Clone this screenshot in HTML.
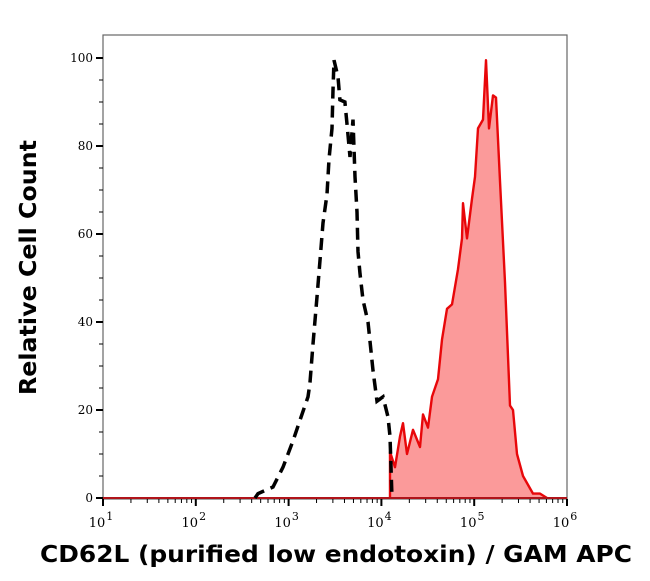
<!DOCTYPE html>
<html><head><meta charset="utf-8"><style>
body{margin:0;background:#fff}
svg{display:block}
</style></head><body>
<svg id="chart" width="650" height="581" xmlns="http://www.w3.org/2000/svg"></svg>
<script>
// Data arrays
const xTickExps = [1, 2, 3, 4, 5, 6];
const yTicks = [0, 20, 40, 60, 80, 100];
const isotypeLogX = [2.638,2.670,2.832,2.94,3.047,3.123,3.209,3.23,3.263,3.306,3.338,3.371,3.414,3.435,3.468,3.478,3.489,3.532,3.553,3.607,3.629,3.662,3.694,3.716,3.737,3.748,3.769,3.802,3.856,3.91,3.953,4.017,4.071,4.093,4.114];
const isotypeCount = [0,1,2.5,7,13,17.7,23,26,35,45.7,54,62.5,69,77,84,92.7,99.5,95.7,90.5,90,85,77.5,86,73,65,56,51,45,40,29,22,23,18.4,14,0];
const stainedLogX = [4.093,4.093,4.147,4.2,4.233,4.276,4.34,4.416,4.448,4.502,4.545,4.61,4.653,4.707,4.761,4.825,4.869,4.879,4.922,4.976,5.009,5.041,5.095,5.127,5.159,5.203,5.235,5.278,5.332,5.386,5.418,5.461,5.526,5.634,5.709,5.784];
const stainedCount = [0,10.5,7,14,17,10,15.5,11.6,19,16,23,27,36,43,44,52,59,67,59,68,73,84,86,99.5,84,91.5,91,72,49,21,20,10,5,1,1,0];

const NS = 'http://www.w3.org/2000/svg';
const svg = document.getElementById('chart');
const L = 103, R = 567, T = 35, B = 498;
const xScale = lg => L + (lg - 1) * (R - L) / 5;
const yScale = v => B - v * 4.4;
function mk(tag, attrs, parent) {
  const e = document.createElementNS(NS, tag);
  for (const k in attrs) e.setAttribute(k, attrs[k]);
  (parent || svg).appendChild(e);
  return e;
}

const frame = mk('rect', {x: L, y: T, width: R - L, height: 499 - T, fill: 'none', stroke: '#666', 'stroke-width': 1.2});



let d = '';
stainedLogX.forEach((lx, i) => { d += (i ? 'L' : 'M') + xScale(lx).toFixed(1) + ',' + yScale(stainedCount[i]).toFixed(1); });
const area = mk('path', {d: d + 'Z', fill: '#fb9a9a', stroke: 'none'});


const line = mk('path', {d: d, fill: 'none', stroke: '#e8070a', 'stroke-width': 2.4, 'stroke-linejoin': 'round'});



const base = mk('line', {x1: L, x2: R, y1: B, y2: B, stroke: '#b0141a', 'stroke-width': 2});



let d2 = '';
isotypeLogX.forEach((lx, i) => { d2 += (i ? 'L' : 'M') + xScale(lx).toFixed(1) + ',' + yScale(isotypeCount[i]).toFixed(1); });
const iso = mk('path', {d: d2, fill: 'none', stroke: '#000', 'stroke-width': 3.5, 'stroke-dasharray': '12 7'});



for (let v = 0; v <= 100; v += 5) {
  const major = v % 20 === 0;
  const t = mk('line', {x1: major ? L - 7 : L - 4, x2: L, y1: yScale(v), y2: yScale(v), stroke: '#000', 'stroke-width': major ? 2 : 1});
  
  
}
yTicks.forEach(v => {
  const t = mk('text', {x: L - 10, y: yScale(v) + 4, 'text-anchor': 'end', 'font-family': 'DejaVu Serif, Liberation Serif, serif', 'font-size': 12, fill: '#000'});
  t.textContent = v;
  
  
});

xTickExps.forEach(e => {
  const x = xScale(e);
  const t = mk('line', {x1: x, x2: x, y1: 499, y2: 506, stroke: '#000', 'stroke-width': 2});
  
  
  if (e < 6) for (let m = 2; m <= 9; m++) {
    const xm = xScale(e + Math.log10(m));
    const tm = mk('line', {x1: xm, x2: xm, y1: 499, y2: 503, stroke: '#000', 'stroke-width': 1});
    
    
  }
  const lbl = mk('text', {x: x - 2, y: 527, 'text-anchor': 'middle', 'font-family': 'DejaVu Serif, Liberation Serif, serif', 'font-size': 13, fill: '#000'});
  lbl.textContent = '10';
  const sup = mk('tspan', {dx: 1, dy: -7, 'font-size': 11}, lbl);
  sup.textContent = e;
  
  
});

const xt = mk('text', {x: 40, y: 562, 'font-family': 'DejaVu Sans, Liberation Sans, sans-serif', 'font-weight': 'bold', 'font-size': 23, textLength: 592, lengthAdjust: 'spacingAndGlyphs', fill: '#000'});
xt.textContent = 'CD62L (purified low endotoxin) / GAM APC';


const yt = mk('text', {x: 0, y: 0, transform: 'translate(36,395) rotate(-90)', 'font-family': 'DejaVu Sans, Liberation Sans, sans-serif', 'font-weight': 'bold', 'font-size': 23, textLength: 255, lengthAdjust: 'spacingAndGlyphs', fill: '#000'});
yt.textContent = 'Relative Cell Count';


</script>
</body></html>
